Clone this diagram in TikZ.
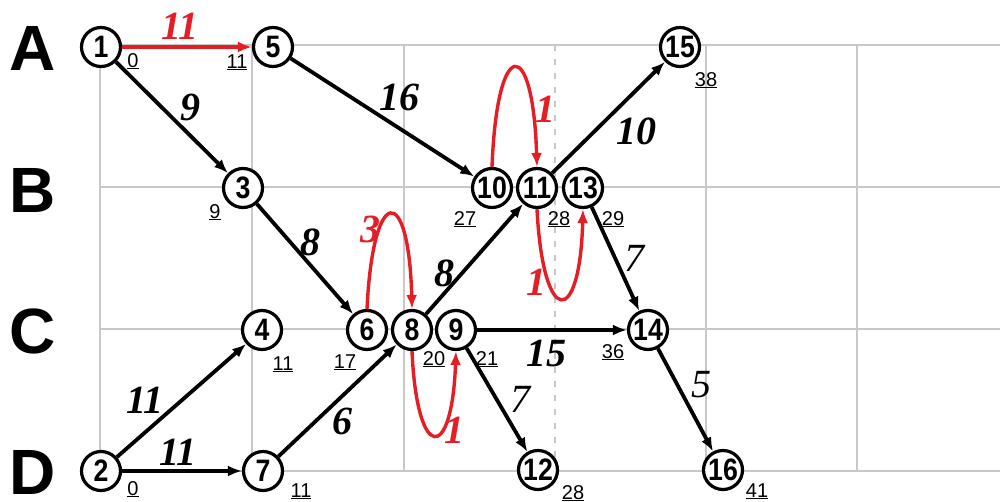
\documentclass[tikz,border=0pt]{standalone}
\usepackage{fontspec}
\setmainfont{Liberation Serif}
\setsansfont{Liberation Sans}
\newfontfamily\evfont{Liberation Sans}[FakeStretch=0.86]
\usetikzlibrary{arrows.meta}
\definecolor{gridgray}{RGB}{200,200,200}
\definecolor{myred}{RGB}{228,30,36}
\begin{document}
\begin{tikzpicture}[x=1pt,y=-1pt,
  ev/.style={circle,draw=black,line width=3.2pt,fill=white,minimum size=39pt,inner sep=0pt,
    font=\evfont\bfseries\fontsize{31}{31}\selectfont},
  tm/.style={anchor=base,inner sep=0pt,font=\sffamily\fontsize{20}{20}\selectfont},
  wt/.style={inner sep=0pt,font=\bfseries\itshape\fontsize{40}{40}\selectfont},
  wtl/.style={inner sep=0pt,font=\itshape\fontsize{40}{40}\selectfont},
  wtr/.style={wt,text=myred},
  rowlab/.style={inner sep=0pt,font=\sffamily\bfseries\fontsize{64}{64}\selectfont},
  act/.style={draw=black,line width=3.8pt,-{Latex[length=14pt,width=11pt]}},
  crit/.style={draw=myred,line width=3.4pt,-{Latex[length=14pt,width=11pt]}},
  gl/.style={draw=gridgray,line width=2.4pt}]
\useasboundingbox[fill=white] (0,0) rectangle (1000,501);
% grid
\foreach \x in {100,252,404,706,857} \draw[gl] (\x,45) -- (\x,471);
\foreach \y in {45,187,329,471} \draw[gl] (100,\y) -- (1000,\y);
\draw[gl,dash pattern=on 6pt off 8pt] (555,45) -- (555,471);
% row labels
\node[rowlab] (rA) at (33,48) {A};
\node[rowlab] (rB) at (33,190) {B};
\node[rowlab] (rC) at (33,331) {C};
\node[rowlab] (rD) at (33,472) {D};
% events
\node[ev] (n1) at (101,47) {1};
\node[ev] (n5) at (273,47) {5};
\node[ev] (n3) at (243,188) {3};
\node[ev] (n15) at (680,47) {15};
\node[ev] (n10) at (492,188) {10};
\node[ev] (n13) at (583,188) {13};
\node[ev] (n11) at (537,188) {11};
\node[ev] (n4) at (262,330) {4};
\node[ev] (n6) at (367,330) {6};
\node[ev] (n9) at (456,330) {9};
\node[ev] (n8) at (412,330) {8};
\node[ev] (n14) at (648,330) {14};
\node[ev] (n2) at (101,471) {2};
\node[ev] (n7) at (263,471) {7};
\node[ev] (n12) at (538,470) {12};
\node[ev] (n16) at (723,470) {16};
% times
\node[tm] (t1) at (133,67) {\underline{0}};
\node[tm] (t5) at (237,68) {\underline{11}};
\node[tm] (t3) at (215,218) {\underline{9}};
\node[tm] (t15) at (706,86) {\underline{38}};
\node[tm] (t10) at (465,225) {\underline{27}};
\node[tm] (t11) at (559,225) {\underline{28}};
\node[tm] (t13) at (613,225) {\underline{29}};
\node[tm] (t4) at (283,370) {\underline{11}};
\node[tm] (t6) at (345,368) {\underline{17}};
\node[tm] (t8) at (434,365) {\underline{20}};
\node[tm] (t9) at (487,365) {\underline{21}};
\node[tm] (t14) at (613,358) {\underline{36}};
\node[tm] (t2) at (133,495) {\underline{0}};
\node[tm] (t7) at (301,497) {\underline{11}};
\node[tm] (t12) at (573,499) {\underline{28}};
\node[tm] (t16) at (757,497) {\underline{41}};
% activities
\draw[crit] (n1) -- (n5);
\draw[act] (n1) -- (n3);
\draw[act] (n5) -- (n10);
\draw[act] (n3) -- (n6);
\draw[act] (n11) -- (n15);
\draw[act] (n13) -- (n14);
\draw[act] (n8) -- (n11);
\draw[act] (n9) -- (n14);
\draw[act] (n9) -- (n12);
\draw[act] (n14) -- (n16);
\draw[act] (n2) -- (n4);
\draw[act] (n2) -- (n7);
\draw[act] (n7) -- (n8);
\draw[crit] (n10.north) .. controls (497,35) and (533,35) .. (n11.north);
\draw[crit] (n11.south) .. controls (543,328) and (580,328) .. (n13.south);
\draw[crit] (n6.north) .. controls (373,183) and (409,183) .. (n8.north);
\draw[crit] (n8.south) .. controls (417,463) and (452,463) .. (n9.south);
% weights
\node[wtr] (w15) at (180,26) {11};
\node[wt] (w13) at (190,107) {9};
\node[wt] (w510) at (399,97) {16};
\node[wtr] (w1011) at (545,109) {1};
\node[wt] (w1115) at (636,131) {10};
\node[wtr] (w68) at (370,229) {3};
\node[wt] (w36) at (310,242) {8};
\node[wt] (w811) at (444,273) {8};
\node[wtr] (w1113) at (536,282) {1};
\node[wtl] (w1314) at (634,258) {7};
\node[wt] (w24) at (145,400) {11};
\node[wt] (w27) at (178,452) {11};
\node[wt] (w78) at (342,421) {6};
\node[wt] (w914) at (546,353) {15};
\node[wtl] (w912) at (520,399) {7};
\node[wtr] (w89) at (454,430) {1};
\node[wtl] (w1416) at (701,385) {5};
\end{tikzpicture}
\end{document}
